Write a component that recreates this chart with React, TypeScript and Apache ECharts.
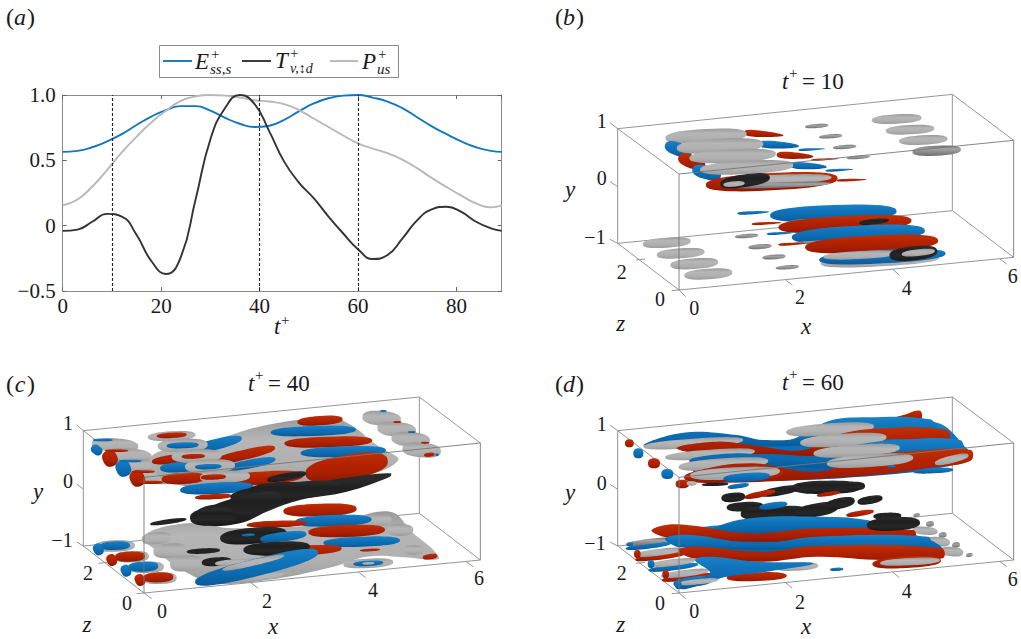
import React, { useEffect, useRef } from "react";
import * as echarts from "echarts";

// ---------- panel (a) values ----------
const tSamples = [0,3,6,9,12,15,18,21,24,27,30,33,36,39,42,45,48,51,54,57,60,63,66,69,72,75,78,81,84,87,89.2];
const vBlue = [0.565,0.572,0.6,0.645,0.7,0.77,0.835,0.885,0.915,0.915,0.88,0.825,0.78,0.755,0.765,0.81,0.875,0.935,0.975,0.995,1.0,0.98,0.95,0.9,0.83,0.76,0.7,0.645,0.6,0.572,0.565];
const vGray = [0.155,0.2,0.3,0.425,0.56,0.68,0.79,0.88,0.955,0.99,1.0,0.995,0.98,0.96,0.95,0.93,0.885,0.82,0.755,0.69,0.63,0.59,0.555,0.505,0.44,0.365,0.295,0.23,0.17,0.14,0.155];
const vBlack = [-0.04,-0.03,0.03,0.09,0.07,-0.07,-0.27,-0.37,-0.24,0.2,0.66,0.9,1.0,0.93,0.72,0.49,0.33,0.21,0.07,-0.06,-0.18,-0.255,-0.225,-0.1,0.04,0.125,0.145,0.105,0.03,-0.02,-0.04];
const markedTimes = [10, 40, 60];

// ---------- 3-D panels: outline of each iso-surface ----------
type Blob = [number, number, number, number, number, string, number?];
type Poly = { c: string; p: number[][] };
type Shape = Blob | Poly;

const shapesB: Shape[] = [
  [1040,177,75,14,-3,"g"],[1080,209,73,14,-3,"g"],[1120,240,73,14,-3,"g"],[1160,272,73,15,-3,"gd"],
  [800,198,35,6,-4,"gd"],[842,229,35,6,-4,"gd"],[884,261,35,6,-4,"gd"],[925,292,35,5,-4,"gd"],
  [640,222,60,13,4,"r",0.6],[468,228,122,21,-3,"g"],
  [685,255,62,14,3,"b",0.5],[785,268,40,5,-3,"b",0.6],[385,268,42,20,20,"b"],[510,258,130,22,-3,"g"],
  [735,287,55,13,3,"r",0.5],[825,298,42,4,-3,"r",0.6],[425,305,42,20,20,"r"],[548,288,130,20,-3,"g"],
  [775,318,55,13,3,"b",0.5],[868,330,42,5,-3,"b",0.6],[470,338,44,20,15,"b"],[590,322,140,20,-3,"g"],
  [905,360,45,5,-2,"r",0.6],[665,365,198,26,-3,"r"],[680,358,165,14,-2,"g"],[690,375,150,8,-2,"gd"],[585,362,75,19,-8,"k"],[552,372,32,8,-5,"g"],
  [610,458,48,6,-3,"b",0.5],[850,460,190,25,-2,"b"],[840,480,120,6,-2,"gd"],
  [650,490,45,5,-3,"r",0.5],[885,492,200,24,-3,"r"],[972,485,45,8,-6,"k"],
  [690,520,40,5,-3,"b",0.5],[925,522,200,25,-3,"b"],[850,545,120,5,-2,"gd"],
  [725,552,40,5,-3,"r",0.5],[965,552,200,25,-3,"r"],
  [990,602,178,17,-3,"g"],[997,590,190,20,-3,"b"],[930,585,110,12,-3,"g"],[1090,580,72,21,-6,"k"],[1105,578,50,10,-6,"g"],
  [590,528,35,6,-4,"gd"],[630,560,35,7,-4,"gd"],[672,591,35,7,-4,"gd"],[712,622,35,6,-4,"gd"],
  [350,548,72,15,-4,"g"],[392,580,72,15,-4,"g"],[433,611,72,16,-4,"g"],[475,642,72,16,-4,"g"],
];

const shapesC: Shape[] = [
  [1145,175,58,22,5,"g"],[1190,208,58,22,5,"g"],[1232,238,58,22,5,"g"],[1265,270,58,22,5,"g"],
  [1150,153,10,3,0,"b"],[1192,186,12,3,0,"r"],[1235,216,12,3,0,"b"],[1275,248,12,3,0,"r"],[1288,284,16,6,-5,"r"],[1311,284,5,4,0,"b"],
  [345,255,70,20,4,"g"],[385,285,70,20,4,"g"],[425,318,70,20,4,"g"],[468,350,70,22,4,"g"],
  [290,270,18,14,35,"b"],[330,295,22,25,-25,"r"],[370,325,22,25,-25,"b"],[412,355,22,25,-25,"r"],
  [308,240,30,4,0,"b"],[350,272,35,4,0,"r"],[390,303,35,4,0,"b"],[430,335,35,4,0,"r"],[450,367,40,5,0,"r"],
  { c: "g", p: [[640,240],[800,195],[1000,172],[1035,185],[1075,210],[1110,240],[1145,265],[1195,300],[1100,345],[800,372],[520,372],[450,300],[520,260]] },
  [515,228,72,14,-3,"g"],[515,226,45,8,-3,"r"],
  [960,182,68,14,-4,"r"],[940,213,128,15,-2,"b"],[985,246,132,16,-2,"r"],[1030,275,128,16,-2,"b"],
  [640,255,88,16,-14,"b"],[730,285,98,15,-13,"r"],[750,312,78,13,-11,"b"],
  [540,295,85,14,-7,"r"],[540,322,60,15,-3,"b"],[550,355,65,17,-3,"r"],
  [548,256,75,20,-2,"g"],[548,256,48,9,-2,"b"],[590,288,75,20,-2,"g"],[580,289,35,7,-2,"r"],
  [630,318,75,20,-2,"g"],[625,320,40,8,-2,"b"],
  [1040,322,125,37,-10,"r"],[780,355,130,20,-4,"r"],[675,350,75,18,-2,"g"],[640,351,38,8,-2,"r"],
  [650,385,110,17,-3,"b"],[640,410,55,8,-3,"r"],
  { c: "g", p: [[430,530],[560,490],[700,505],[1000,490],[1170,455],[1240,520],[1300,570],[1315,598],[1210,592],[1100,590],[1000,620],[800,660],[640,668],[530,620],[480,580]] },
  [470,535,45,18,-5,"g"],[510,572,50,22,-5,"g"],[560,610,50,24,-5,"g"],
  [1240,570,30,14,0,"g"],[1200,510,40,18,0,"g"],[1130,480,45,18,0,"g"],
  [505,485,55,7,-8,"k"],
  { c: "k", p: [[575,470],[620,438],[700,430],[730,395],[800,370],[950,365],[1060,350],[1172,340],[1170,350],[1040,395],[900,420],[800,455],[720,490],[600,495]] },
  [860,395,170,26,-6,"k"],[730,440,120,32,-14,"k"],[640,470,70,26,-4,"k"],[860,350,60,11,-10,"k"],
  [960,450,110,19,-2,"r"],[1000,482,115,17,-2,"b"],[830,492,90,10,-2,"r"],[1040,513,115,18,-2,"r"],[1085,545,115,15,-2,"b"],
  [760,527,100,24,-5,"k"],[745,525,20,4,-3,"b"],[850,530,70,14,-7,"b"],[900,572,125,15,-3,"r"],[830,565,100,20,-3,"k"],
  [610,573,50,8,-3,"k"],[650,605,45,13,-4,"k"],[720,607,75,10,-3,"g"],[1110,570,30,4,-3,"r"],[1290,590,22,8,-8,"r"],
  [720,650,135,15,-5,"g"],[770,622,190,26,-14,"b"],[760,608,95,9,-13,"g"],
  [1105,610,75,14,-3,"g"],[1105,610,45,8,-3,"b"],[1105,610,18,4,-3,"g"],
  [345,558,60,17,-2,"g"],[395,590,52,17,-2,"g"],[440,622,52,17,-2,"g"],[480,655,50,17,-2,"g"],
  [345,557,45,13,-2,"b"],[390,590,45,15,-2,"r"],[430,620,45,15,-2,"b"],[475,652,45,15,-2,"r"],
  [295,568,15,18,-25,"b"],[335,600,15,18,-25,"r"],[378,632,15,18,-25,"b"],[420,660,15,18,-25,"r"],
];

const shapesD: Shape[] = [
  { c: "r", p: [[1010,182],[1060,165],[1110,152],[1112,180],[1060,185]] },
  { c: "b", p: [[430,235],[700,245],[830,190],[1150,185],[1250,265],[1262,300],[1000,345],[500,362],[430,335]] },
  { c: "b", p: [[280,255],[400,218],[560,225],[640,240],[760,230],[830,185],[950,172],[1140,178],[1155,205],[960,205],[820,250],[620,260],[560,260],[360,255]] },
  [430,250,150,14,-4,"g"],[840,208,132,18,-4,"g"],
  { c: "r", p: [[380,265],[500,245],[620,258],[760,270],[860,225],[1000,205],[1190,210],[1195,240],[1000,240],[840,285],[640,282],[520,290]] },
  [480,283,135,14,-4,"g"],[880,240,130,19,-4,"g"],
  { c: "b", p: [[420,300],[560,280],[680,292],[800,305],[900,260],[1050,240],[1230,240],[1235,270],[1050,270],[880,320],[680,320],[560,325]] },
  [520,312,135,17,-4,"g"],[920,272,130,18,-4,"g"],
  [1150,332,60,8,-3,"b"],
  { c: "r", p: [[430,335],[600,310],[800,335],[950,290],[1100,272],[1262,270],[1262,302],[1150,322],[1000,342],[700,362],[500,366],[420,350]] },
  [550,345,148,22,-3,"r"],[555,340,135,18,-3,"g"],[590,352,70,13,-4,"b"],[960,302,130,19,-4,"g"],[1205,298,52,11,-14,"g"],[1025,320,12,4,0,"b"],
  [565,378,32,7,-8,"b"],
  [238,250,13,12,0,"r"],[265,280,15,15,0,"b"],[312,310,18,15,0,"r"],[352,342,18,15,0,"b"],[397,372,20,13,0,"r"],[425,370,15,7,0,"g"],
  [495,373,40,5,-2,"k"],[550,412,36,14,-5,"k"],[585,440,55,14,-3,"k"],[620,460,48,18,-3,"k"],[700,460,75,22,-3,"k"],
  [800,450,65,20,-10,"k"],[870,430,45,16,-12,"k"],[830,382,105,20,-1,"k"],[690,393,58,13,-10,"k"],[960,420,38,12,-10,"k"],[915,378,30,13,0,"k"],
  [630,403,47,9,-12,"r"],[835,402,35,6,-8,"r"],[670,437,42,10,-8,"b"],[930,460,42,8,-9,"r"],
  [1100,465,10,5,-10,"gd"],[1140,492,12,8,-10,"gd"],[1178,525,12,8,-10,"gd"],[1218,555,12,8,-10,"gd"],[1258,585,10,6,-10,"gd"],
  [1125,512,38,12,5,"g"],[1165,545,35,14,5,"g"],[1205,575,35,14,5,"g"],
  [1012,468,42,10,-2,"k"],
  [295,558,68,8,-7,"b"],[295,545,68,8,-7,"gd"],
  [330,590,75,9,-7,"r"],[325,577,72,10,-7,"g"],
  [370,622,75,9,-7,"b"],[365,608,72,10,-7,"g"],
  [410,652,75,9,-7,"r"],[405,640,72,10,-7,"g"],
  { c: "b", p: [[400,520],[600,490],[800,480],[1000,505],[1140,540],[1175,570],[1000,590],[800,575],[640,590],[430,585]] },
  { c: "b", p: [[490,505],[600,475],[800,470],[950,480],[1000,505],[900,515],[500,520]] },
  { c: "r", p: [[305,510],[380,493],[600,520],[800,505],[1090,510],[1095,528],[800,540],[600,545],[400,530],[340,530]] },
  { c: "b", p: [[345,535],[420,525],[620,550],[800,530],[1135,530],[1135,558],[800,565],[600,570],[420,562],[380,560]] },
  { c: "r", p: [[385,570],[440,560],[640,575],[800,558],[1175,565],[1178,595],[1000,600],[800,590],[640,605],[430,595]] },
  [1030,492,80,20,-3,"k"],
  [740,620,65,12,-3,"g"],[620,650,90,13,-2,"r"],[430,665,60,15,-7,"b"],
  { c: "b", p: [[435,600],[480,590],[620,605],[790,610],[650,635],[530,650],[470,668],[395,688],[380,672],[480,640]] },
  [445,665,60,8,-6,"g"],[240,553,10,6,-7,"b"],[262,582,10,12,0,"r"],[303,612,10,12,0,"b"],[347,643,10,12,0,"r"],[385,675,10,12,0,"b"],
  [1070,607,103,17,-3,"r"],[1080,605,90,11,-3,"g"],[860,628,20,5,-3,"b"],
];

// box corners of each 3-D panel, in that panel's axis units
const boxB = [[387,690],[1391,592],[203,550],[1207,452],[387,342],[1391,241],[203,206],[1207,103]];
const boxC = [[432,699],[1441,600],[250,558],[1258,460],[432,352],[1441,249],[250,212],[1258,111]];
const boxD = [[387,699],[1391,600],[203,558],[1207,460],[387,352],[1391,249],[203,212],[1207,111]];
const ticksB = [[180,188,203,206],[180,365,203,380],[180,538,203,550],[258,600,285,597],[387,690,365,692],[387,690,407,710],[707,660,727,675],[1028,628,1048,645],[1350,597,1370,612]];
const ticksC = [[230,195,250,212],[230,372,250,387],[230,546,250,558],[295,610,322,607],[432,699,410,701],[432,699,455,716],[752,668,775,685],[1075,636,1097,653],[1398,605,1420,620]];
const ticksD = [[180,195,203,212],[180,373,203,388],[180,546,203,558],[258,610,285,607],[387,699,365,701],[387,699,407,716],[707,668,727,685],[1028,636,1048,653],[1350,605,1370,620]];

const SERIF = "Liberation Serif";
const FILLS: Record<string, string[]> = {
  g: ["#9a9a9a", "#b6b6b6", "#b0b0b0", "#9c9c9c"],
  gd: ["#6f6f6f", "#a4a4a4", "#8a8a8a", "#707070"],
  r: ["#c13000", "#b62400", "#a91f00", "#8f1800"],
  b: ["#1a82c8", "#0f74bb", "#0c6aae", "#0a5a98"],
  k: ["#2e2e2e", "#1f1f1f", "#262626", "#191919"],
};

function outline(s: Blob): number[][] {
  const [cx, cy, rx, ry, deg, , taper = 0] = s;
  const a = (deg * Math.PI) / 180;
  const power = 2 / 2.5; // slightly capsule-like cross-section
  const pts: number[][] = [];
  for (let i = 0; i < 48; i++) {
    const t = (i / 48) * Math.PI * 2;
    const c = Math.cos(t);
    const sn = Math.sin(t);
    const u = Math.sign(c) * Math.pow(Math.abs(c), power);
    const v = Math.sign(sn) * Math.pow(Math.abs(sn), power) * ry * (1 - (taper * (u + 1)) / 2);
    const x = u * rx;
    pts.push([cx + x * Math.cos(a) - v * Math.sin(a), cy + x * Math.sin(a) + v * Math.cos(a)]);
  }
  return pts;
}

function shapeSeries(shapes: Shape[], axis: number, z: number) {
  return {
    type: "custom",
    coordinateSystem: "cartesian2d",
    xAxisIndex: axis,
    yAxisIndex: axis,
    silent: true,
    z,
    data: shapes.map((_, i) => [i, 0]),
    renderItem: (params: any, api: any) => {
      const s = shapes[params.dataIndex];
      const isPoly = !Array.isArray(s);
      const raw = isPoly ? (s as Poly).p : outline(s as Blob);
      const stops = FILLS[isPoly ? (s as Poly).c : (s as Blob)[5]];
      return {
        type: "polygon",
        shape: { points: raw.map((p) => api.coord(p)), smooth: isPoly ? 0.4 : 0 },
        style: {
          fill: new echarts.graphic.LinearGradient(0, 0, 0, 1, stops.map((color, k) => ({ offset: k / 3, color }))),
        },
      };
    },
  };
}

function frameSeries(segments: number[][], axis: number, z: number, color: string) {
  return {
    type: "custom",
    coordinateSystem: "cartesian2d",
    xAxisIndex: axis,
    yAxisIndex: axis,
    silent: true,
    z,
    data: segments.map((_, i) => [i, 0]),
    renderItem: (params: any, api: any) => {
      const [x1, y1, x2, y2] = segments[params.dataIndex];
      const a = api.coord([x1, y1]);
      const b = api.coord([x2, y2]);
      return { type: "line", shape: { x1: a[0], y1: a[1], x2: b[0], y2: b[1] }, style: { stroke: color, lineWidth: 0.9 } };
    },
  };
}

const edge = (b: number[][], i: number, j: number) => [b[i][0], b[i][1], b[j][0], b[j][1]];
const backEdges = (b: number[][]) => [edge(b,0,1),edge(b,2,3),edge(b,0,2),edge(b,1,3),edge(b,2,6),edge(b,3,7),edge(b,6,7),edge(b,4,6),edge(b,5,7)];
const frontEdges = (b: number[][]) => [edge(b,0,4),edge(b,1,5),edge(b,4,5)];

function txt(text: string, x: number, y: number, size = 20, italic = false, align = "center") {
  return {
    type: "text",
    silent: true,
    style: { text, x, y, fill: "#1a1a1a", textAlign: align, textVerticalAlign: "middle", font: `${italic ? "italic " : ""}${size}px ${SERIF}` },
  };
}
function letter(l: string, x: number, y: number) {
  return [txt("(", x - 10, y, 24), txt(l, x, y, 24, true), txt(")", x + 11, y, 24)];
}
function title(v: string, x: number, y: number) {
  return [txt("t", x, y, 23, true, "left"), txt("+", x + 7, y - 8, 15, false, "left"), txt("= " + v, x + 20, y, 23, false, "left")];
}
function labels3d(o: number[][], names: string[]) {
  return o.map((p, i) => txt(names[i], p[0], p[1], /[xyz]/.test(names[i]) ? 23 : 20, /[xyz]/.test(names[i])));
}
const names3d = ["1", "0", "\u22121", "y", "2", "0", "z", "0", "2", "4", "6", "x"];
const labelPosB = [[601.7,121],[601.7,178],[595,237],[570,189],[621.7,272],[660,299],[620.7,323],[694.3,308],[800,297],[906.7,288],[1012.7,276],[806,326]];
const labelPosC = [[68,423],[68,481],[62,540],[38,491],[88,573],[127,603],[87,624],[162,611],[267,601],[373,590],[479,578],[273,626]];
const labelPosD = [[601.7,424],[601.7,483],[595,543],[570,492],[621.7,573],[660,603],[620.7,624],[694.3,611],[800,602],[906.7,591],[1012.7,579],[806,626]];

const hiddenGrid = (left: number, top: number, width: number, height: number) => ({ left, top, width, height, show: false });
const hiddenX = (gridIndex: number, max: number) => ({ type: "value", gridIndex, min: 0, max, show: false });
const hiddenY = (gridIndex: number, max: number) => ({ type: "value", gridIndex, min: 0, max, inverse: true, show: false });

const axisLine = { show: true, onZero: false, lineStyle: { color: "#8a8a8a", width: 1 } };
const tick = { show: true, inside: true, length: 4, lineStyle: { color: "#666", width: 1 } };

export default function App() {
  const ref = useRef<HTMLDivElement>(null);
  useEffect(() => {
    const chart = echarts.init(ref.current!, undefined, { renderer: "svg" });
    const lineSeries = (name: string, v: number[], color: string, z: number) => ({
      type: "line", name, xAxisIndex: 0, yAxisIndex: 0, showSymbol: false, smooth: 0.5, z,
      data: tSamples.map((x, i) => [x, v[i]]), lineStyle: { color, width: 1.9 },
    });
    chart.setOption({
      animation: false,
      backgroundColor: "#ffffff",
      grid: [
        { left: 62.7, top: 95, width: 439, height: 196, show: false },
        hiddenGrid(550, 60, 470, 280),
        hiddenGrid(0, 360, 490, 279),
        hiddenGrid(550, 360, 470, 279),
      ],
      xAxis: [
        {
          type: "value", gridIndex: 0, min: 0, max: 89.2, interval: 20, position: "bottom",
          axisLine, axisTick: tick, splitLine: { show: false },
          axisLabel: { color: "#1a1a1a", fontFamily: SERIF, fontSize: 21, margin: 4, showMaxLabel: false },
        },
        hiddenX(1, 1410),
        hiddenX(2, 1470),
        hiddenX(3, 1410),
        {
          type: "value", gridIndex: 0, min: 0, max: 89.2, interval: 20, position: "top",
          axisLine, axisTick: tick, axisLabel: { show: false }, splitLine: { show: false },
        },
      ],
      yAxis: [
        {
          type: "value", gridIndex: 0, min: -0.5, max: 1, interval: 0.5, position: "left",
          axisLine, axisTick: tick, splitLine: { show: false },
          axisLabel: {
            color: "#1a1a1a", fontFamily: SERIF, fontSize: 21, margin: 7,
            formatter: (v: number) => (v === 0 ? "0" : v < 0 ? "\u2212" + Math.abs(v).toFixed(1) : v.toFixed(1)),
          },
        },
        hiddenY(1, 840),
        hiddenY(2, 837),
        hiddenY(3, 837),
        {
          type: "value", gridIndex: 0, min: -0.5, max: 1, interval: 0.5, position: "right",
          axisLine, axisTick: tick, axisLabel: { show: false }, splitLine: { show: false },
        },
      ],
      series: [
        {
          ...lineSeries("E+ss,s", vBlue, "#1277bd", 3),
          markLine: {
            silent: true, symbol: "none", label: { show: false },
            lineStyle: { color: "#222", type: [3, 2], width: 1.1 },
            data: markedTimes.map((xAxis) => ({ xAxis })),
          },
        },
        lineSeries("P+us", vGray, "#b8b8b8", 3),
        lineSeries("T+v,d", vBlack, "#333333", 4),
        frameSeries(backEdges(boxB), 1, 2, "#8a8a8a"), frameSeries(ticksB, 1, 2, "#8a8a8a"),
        shapeSeries(shapesB, 1, 3), frameSeries(frontEdges(boxB), 1, 4, "#777"),
        frameSeries(backEdges(boxC), 2, 2, "#8a8a8a"), frameSeries(ticksC, 2, 2, "#8a8a8a"),
        shapeSeries(shapesC, 2, 3), frameSeries(frontEdges(boxC), 2, 4, "#777"),
        frameSeries(backEdges(boxD), 3, 2, "#8a8a8a"), frameSeries(ticksD, 3, 2, "#8a8a8a"),
        shapeSeries(shapesD, 3, 3), frameSeries(frontEdges(boxD), 3, 4, "#777"),
      ],
      graphic: [
        { type: "rect", silent: true, shape: { x: 159.5, y: 45.5, width: 239, height: 32 }, style: { fill: "#fff", stroke: "#8a8a8a", lineWidth: 1 } },
        { type: "line", silent: true, shape: { x1: 163, y1: 61, x2: 192, y2: 61 }, style: { stroke: "#1277bd", lineWidth: 1.9 } },
        { type: "line", silent: true, shape: { x1: 242, y1: 61, x2: 271, y2: 61 }, style: { stroke: "#333", lineWidth: 1.9 } },
        { type: "line", silent: true, shape: { x1: 330, y1: 61, x2: 358, y2: 61 }, style: { stroke: "#b8b8b8", lineWidth: 1.9 } },
        txt("E", 195, 61, 23, true, "left"), txt("+", 211, 54, 15, false, "left"), txt("ss,s", 210, 69, 15, true, "left"),
        txt("T", 275, 60, 23, true, "left"), txt("+", 290, 53, 15, false, "left"), txt("v,\u2195d", 290, 68, 14, true, "left"),
        txt("P", 362, 61, 23, true, "left"), txt("+", 378, 54, 15, false, "left"), txt("us", 377, 69, 15, true, "left"),
        txt("t", 274, 326, 23, true, "left"), txt("+", 281, 320, 15, false, "left"),
        ...letter("a", 20, 17), ...letter("b", 569, 17), ...letter("c", 20, 384), ...letter("d", 569, 384),
        ...title("10", 782, 81), ...title("40", 248, 383), ...title("60", 782, 382),
        ...labels3d(labelPosB, names3d), ...labels3d(labelPosC, names3d), ...labels3d(labelPosD, names3d),
      ],
    });
    return () => chart.dispose();
  }, []);
  return <div ref={ref} style={{ position: "absolute", left: 0, top: 0, width: 1021, height: 639 }} />;
}
